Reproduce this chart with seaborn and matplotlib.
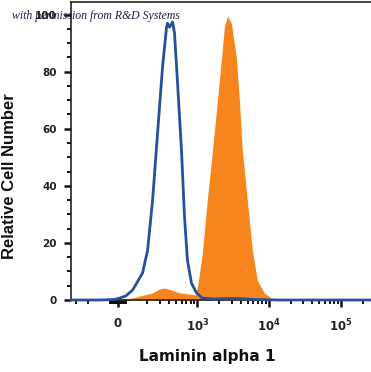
"""
Histograma de citometria: Laminin alpha 1 (controle isotipo vs anticorpo).
"""

import matplotlib
matplotlib.use("Agg")
import matplotlib.pyplot as plt
import seaborn as sns
import pandas as pd
import numpy as np
from matplotlib.ticker import FixedLocator, FixedFormatter

# Dados (intensidade de fluorescência, % de células)
isotype_x = [-350, -138, -37, 25, 100, 125, 172, 202, 237, 278, 326, 371, 383, 408,
             450, 479, 528, 599, 660, 725, 825, 970, 1170, 1720, 2370, 3840, 6200,
             13800, 262144]
isotype_y = [0, 0, 0.18, 0.7, 1.4, 3.5, 9.5, 17.5, 35.0, 58.5, 81.6, 95.6, 97.0, 95.6,
             97.4, 93.5, 76.0, 52.5, 29.1, 14.0, 5.9, 2.5, 0.7, 0.35, 0.5, 0.5, 0.2,
             0, 0]

stained_x = [-350, -37, 62, 125, 156, 237, 297, 348, 436, 562, 774, 940, 1000, 1070,
             1170, 1370, 1620, 1900, 2150, 2370, 2610, 2960, 3260, 3480, 3840, 4220,
             4950, 5820, 6810, 8520, 10670, 13800, 26100, 262144]
stained_y = [0, 0, 0.35, 0.7, 1.4, 2.5, 3.9, 4.2, 3.5, 2.5, 2.1, 1.8, 4.6, 9.5,
             16.5, 35.0, 52.5, 70.0, 84.0, 95.6, 99.5, 97.0, 90.0, 85.1, 70.0, 52.5,
             35.0, 17.5, 7.0, 2.5, 0.7, 0.2, 0, 0]

x_major = [0, 1000, 10000, 100000]
x_major_labels = ["0", r"$\mathbf{10^3}$", r"$\mathbf{10^4}$", r"$\mathbf{10^5}$"]
y_major = [0, 20, 40, 60, 80, 100]

sns.set_style("ticks")

fig = plt.figure(figsize=(3.71, 3.72), dpi=100)
ax = fig.add_axes([0.1906, 0.1935, 0.8094, 0.801])

iso = pd.DataFrame({"x": isotype_x, "y": isotype_y})
sta = pd.DataFrame({"x": stained_x, "y": stained_y})

ax.set_xscale("symlog", linthresh=100, linscale=0.1)

# anticorpo (preenchido laranja)
ax.fill_between(sta["x"], 0, sta["y"], color="#f7851e", linewidth=0, zorder=2)
# controle isotipo (linha azul)
sns.lineplot(data=iso, x="x", y="y", ax=ax, color="#23519b", linewidth=2.0,
             sort=False, zorder=3, clip_on=False)

ax.set_xlim(-350, 262144)
ax.set_ylim(0, 104.4)

# ticks do eixo x
minor = [-300, -200] + list(range(-100, 101, 10))
for dec in [100, 1000, 10000, 100000]:
    minor += [dec * k for k in range(2, 10)]
minor = [m for m in minor if m < 262144]
ax.xaxis.set_major_locator(FixedLocator(x_major))
ax.xaxis.set_major_formatter(FixedFormatter(x_major_labels))
ax.xaxis.set_minor_locator(FixedLocator(minor))

ax.yaxis.set_major_locator(FixedLocator(y_major))
ax.yaxis.set_minor_locator(FixedLocator(list(range(5, 101, 5))))

ax.tick_params(axis="both", which="major", length=5, width=1.8, color="#111111",
               labelcolor="#222222")
ax.tick_params(axis="both", which="minor", length=3, width=1.4, color="#111111")
ax.tick_params(axis="x", which="major", pad=7.5, labelsize=8.5)
ax.tick_params(axis="y", which="major", pad=5, labelsize=7.5)
for lab in ax.get_xticklabels() + ax.get_yticklabels():
    lab.set_fontweight("bold")

for side in ["left", "bottom", "top"]:
    ax.spines[side].set_color("#222222")
    ax.spines[side].set_linewidth(1.2)
ax.spines["right"].set_visible(False)

ax.set_xlabel("Laminin alpha 1", fontsize=11, fontweight="bold", color="#111111")
ax.set_ylabel("Relative Cell Number", fontsize=12, fontweight="bold", color="#111111",
              family="Liberation Sans")
ax.xaxis.set_label_coords(0.454, -0.166)
ax.yaxis.set_label_coords(-0.178, 0.416)

fig.text(12 / 371, 1 - 16 / 372, "with permission from R&D Systems", fontsize=8.5,
         style="italic", family="Liberation Serif", color="#1a1f4a", va="center",
         ha="left", zorder=10)

fig.savefig("out.png", dpi=100)
plt.close(fig)
